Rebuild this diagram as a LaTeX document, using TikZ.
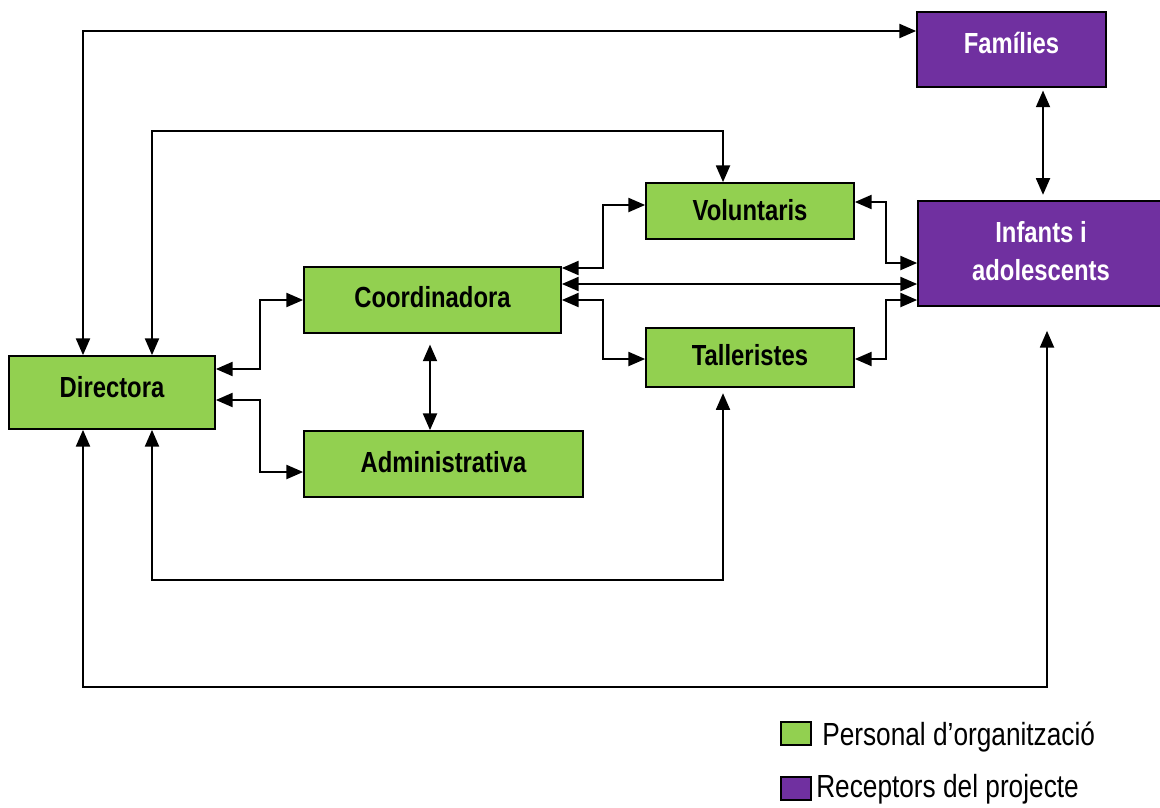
\documentclass[tikz,border=0pt]{standalone}
\usepackage{fontspec}
\setmainfont{Liberation Sans}
\newfontfamily\narrowfont[FakeStretch=0.82]{Liberation Sans}
\usetikzlibrary{arrows.meta}
\definecolor{orgGreen}{HTML}{92D050}
\definecolor{recPurple}{HTML}{7030A0}
\tikzset{
  box/.style={draw=black, line width=1.3pt, rectangle, inner sep=0pt,
    font=\narrowfont\bfseries\fontsize{21.8}{28.5}\selectfont, align=center},
  gbox/.style={box, fill=orgGreen},
  pbox/.style={box, fill=recPurple, text=white},
  link/.style={line width=1.4pt,
    {Triangle[length=12.5pt,width=10.5pt]}-{Triangle[length=12.5pt,width=10.5pt]}},
  legbox/.style={draw=black, line width=1.3pt, minimum width=22.5pt,
    minimum height=17.25pt, inner sep=0pt},
  legtext/.style={anchor=west, inner sep=0pt,
    font=\narrowfont\fontsize{24}{28}\selectfont}
}
\begin{document}
\begin{tikzpicture}[x=0.75pt,y=-0.75pt]
\useasboundingbox (0,0) rectangle (1160,807);

% boxes
\node[gbox, minimum width=154.5pt, minimum height=54.75pt] (dir) at (112,392.5) {\raisebox{8pt}{Directora}};
\node[gbox, minimum width=192.75pt, minimum height=49.5pt] (coo) at (432.5,300) {\raisebox{4.5pt}{Coordinadora}};
\node[gbox, minimum width=209.25pt, minimum height=49.5pt] (adm) at (443.5,464) {\raisebox{3.5pt}{Administrativa}};
\node[gbox, minimum width=156pt, minimum height=42pt] (vol) at (750,211) {\raisebox{1pt}{Voluntaris}};
\node[gbox, minimum width=156pt, minimum height=44.25pt] (tal) at (750,357.5) {\raisebox{3.5pt}{Talleristes}};
\node[pbox, minimum width=141.75pt, minimum height=56.25pt] (fam) at (1011.5,49.5) {\raisebox{10pt}{Famílies}};
\node[pbox, minimum width=184.5pt, minimum height=78.75pt] (inf) at (1041,253.5)
  {\raisebox{3pt}{\begin{tabular}{@{}c@{}}Infants i\\adolescents\end{tabular}}};

% connectors
\draw[link] (dir.north -| 83,0) |- (fam.west |- 0,31);
\draw[link] (dir.north -| 152,0) -- (152,131) -| (vol.north -| 723,0);
\draw[link] (dir.east |- 0,369) -- (260,369) |- (coo.west |- 0,300);
\draw[link] (dir.east |- 0,400) -- (260,400) |- (adm.west |- 0,472);
\draw[link, shorten <=8pt] (coo.south -| 430,0) -- (adm.north -| 430,0);
\draw[link] (coo.east |- 0,268) -- (603,268) |- (vol.west |- 0,205);
\draw[link] (coo.east |- 0,284) -- (inf.west |- 0,284);
\draw[link] (coo.east |- 0,300) -- (603,300) |- (tal.west |- 0,359);
\draw[link] (vol.east |- 0,202) -- (886,202) |- (inf.west |- 0,263);
\draw[link] (tal.east |- 0,359) -- (886,359) |- (inf.west |- 0,300);
\draw[link, shorten <=2pt, shorten >=4pt] (fam.south -| 1043,0) -- (inf.north -| 1043,0);
\draw[link, shorten >=4pt] (dir.south -| 152,0) -- (152,580) -| (tal.south -| 723,0);
\draw[link, shorten >=18pt] (dir.south -| 83,0) -- (83,687) -| (inf.south -| 1047,0);

% legend
\node[legbox, fill=orgGreen] (lg1) at (796,733.5) {};
\node[legtext] (lt1) at (822,737) {Personal d’organització};
\node[legbox, fill=recPurple] (lg2) at (796,788.5) {};
\node[legtext] (lt2) at (816,789) {Receptors del projecte};
\end{tikzpicture}
\end{document}
